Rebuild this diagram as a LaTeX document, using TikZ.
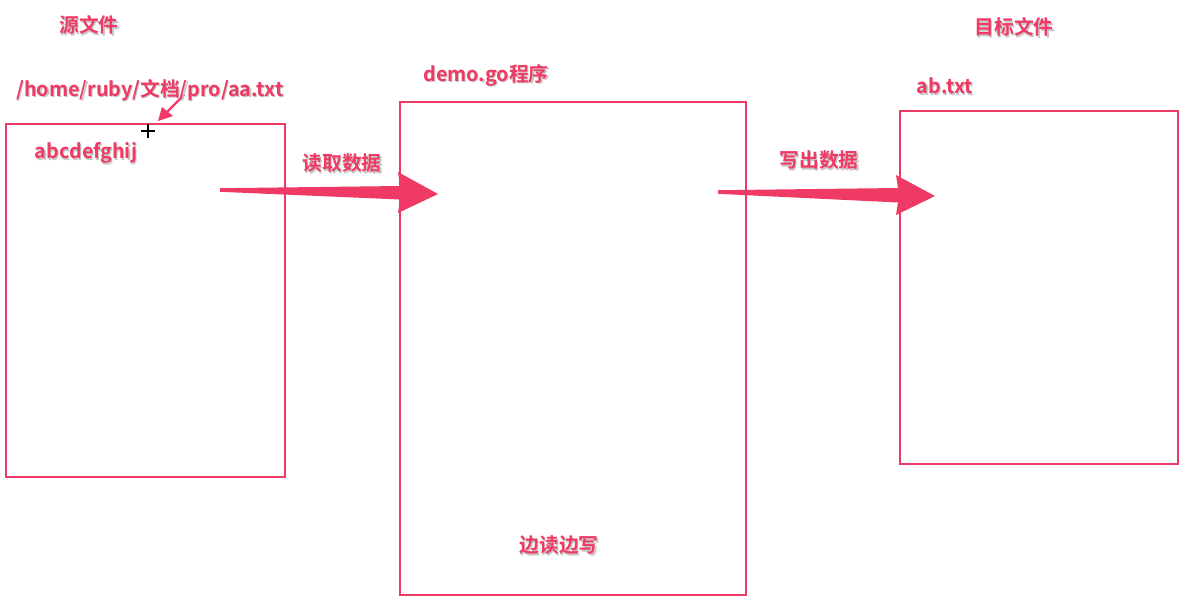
\documentclass[tikz,border=0pt]{standalone}
\usepackage{fontspec}
\usetikzlibrary{calc}
\setmainfont{Noto Sans CJK SC}[BoldFont={Noto Sans CJK SC Bold}]
\definecolor{pk}{RGB}{238,58,100}
\begin{document}
\begin{tikzpicture}[x=1pt,y=-1pt,
  box/.style={draw=pk,line width=2.9pt},
  lbl/.style={text=pk,font=\fontsize{19.8}{22}\selectfont\bfseries,inner sep=0pt},
  shd/.style={text=black!22,font=\fontsize{19.8}{22}\selectfont\bfseries,inner sep=0pt}]
\useasboundingbox[fill=white] (0,0) rectangle (1187,606);
% boxes
\draw[box] (6,124) rectangle (285,477);
\draw[box] (400,102) rectangle (746,595);
\draw[box] (900,111) rectangle (1178,464);
% coordinates for arrows
\coordinate (a1s) at (220,190);
\coordinate (a1e) at (438,194);
\coordinate (a2s) at (718,192);
\coordinate (a2e) at (935,196);
% big arrow 1
\fill[pk] (a1s) ++(0,-1.8) -- (400,186) -- (398,172) -- (a1e) -- (398,213) -- (400,199.5) -- (220,191.8) -- cycle;
% big arrow 2
\fill[pk] (a2s) ++(0,-1.8) -- (898,188) -- (896,175) -- (a2e) -- (896,215) -- (898,202.5) -- (718,193.8) -- cycle;
% small arrow
\coordinate (cur) at (148,131);
\coordinate (ps) at (184,95);
\coordinate (pe) at (158,121);
\draw[pk,line width=2.2pt,line cap=round] (ps) -- (167,112);
\fill[pk] (pe) -- (162,107) -- (173,116) -- cycle;
% cursor
\draw[black,line width=1.1pt] ($(cur)+(-7,0)$) -- ++(14,0);
\draw[black,line width=1.1pt] ($(cur)+(0,-7)$) -- ++(0,14);
% labels
\foreach \nm/\x/\y/\t in {src/89/25/源文件, path/150/90/{/home/ruby/文档/pro/aa.txt}, abc/86/153/abcdefghij, rd/342/163/读取数据, demo/486/75/demo.go程序, wr/819/160/写出数据, dst/1014/27/目标文件, ab/945/86/ab.txt, rw/559/545/边读边写}{
  \node[shd] at (\x+1.2,\y+1.6) {\t};
  \node[lbl] (\nm) at (\x,\y) {\t};
}
\end{tikzpicture}
\end{document}
